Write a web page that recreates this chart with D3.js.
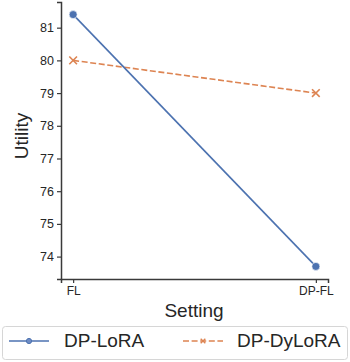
<!DOCTYPE html>
<meta charset="UTF-8">
<script src="https://d3js.org/d3.v7.min.js"></script>
<style>
body { margin: 0; background: #fff; }
text { font-family: "Liberation Sans", Arial, sans-serif; fill: #262626; }
</style>
<div id="chart"></div>
<script>
// data
var settings = ["FL", "DP-FL"]
var seriesNames = ["DP-LoRA", "DP-DyLoRA"]
var dpLora = [81.4, 73.7]
var dpDylora = [80.0, 79.0]
var yTicks = [74, 75, 76, 77, 78, 79, 80, 81]

var width = 350, height = 362
var margin = {left: 61, right: 22, top: 2, bottom: 83}

var svg = d3.select("#chart").append("svg")
    .attr("width", width)
    .attr("height", height)

// x uses index positions with matplotlib's 5% padding
var x = d3.scaleLinear().domain([-0.05, 1.05]).range([margin.left, width - margin.right])
var all = dpLora.concat(dpDylora)
var lo = d3.min(all), hi = d3.max(all), pad = (hi - lo) * 0.05
var y = d3.scaleLinear().domain([lo - pad, hi + pad]).range([height - margin.bottom, margin.top])

var axisColor = "#3a3a3a"

// y axis
var yAxis = svg.append("g")
    .attr("transform", "translate(" + margin.left + ",0)")
    .call(d3.axisLeft(y).tickValues(yTicks).tickSize(4).tickPadding(3).tickFormat(d3.format("d")))
yAxis.selectAll("text").style("font-size", "12.5px")

// x axis
var xAxis = svg.append("g")
    .attr("transform", "translate(0," + (height - margin.bottom) + ")")
    .call(d3.axisBottom(x).tickValues([0, 1]).tickSize(4).tickPadding(3).tickFormat(function(i){ return settings[i] }))
xAxis.selectAll("text").style("font-size", "12px")

svg.selectAll(".domain").attr("stroke", axisColor).attr("stroke-width", 1.5)
svg.selectAll(".tick line").attr("stroke", axisColor).attr("stroke-width", 1.2)

// axis titles
svg.append("text")
    .attr("x", 194)
    .attr("y", 317)
    .attr("text-anchor", "middle")
    .style("font-size", "19px")
    .text("Setting")
svg.append("text")
    .attr("transform", "translate(28,136) rotate(-90)")
    .attr("text-anchor", "middle")
    .style("font-size", "19px")
    .text("Utility")

var blue = "#4c72b0", orange = "#dd8452"
var line = d3.line().x(function(d, i){ return x(i) }).y(function(d){ return y(d) })

// DP-DyLoRA (dashed, x markers)
svg.append("path")
    .datum(dpDylora)
    .attr("d", line)
    .attr("fill", "none")
    .attr("stroke", orange)
    .attr("stroke-width", 1.6)
    .attr("stroke-dasharray", "6,2.6")
var xm = d3.symbol().type(d3.symbolX).size(40)
svg.selectAll(".xm").data(dpDylora).enter().append("path")
    .attr("d", xm)
    .attr("transform", function(d, i){ return "translate(" + x(i) + "," + y(d) + ")" })
    .attr("fill", "none")
    .attr("stroke", orange)
    .attr("stroke-width", 1.6)

// DP-LoRA (solid, circles)
svg.append("path")
    .datum(dpLora)
    .attr("d", line)
    .attr("fill", "none")
    .attr("stroke", blue)
    .attr("stroke-width", 1.6)
svg.selectAll(".cm").data(dpLora).enter().append("circle")
    .attr("cx", function(d, i){ return x(i) })
    .attr("cy", function(d){ return y(d) })
    .attr("r", 4)
    .attr("fill", blue)
    .attr("stroke", "#fff")
    .attr("stroke-width", 0.6)

// legend
var lg = svg.append("g")
lg.append("rect")
    .attr("x", 2.5).attr("y", 326.5)
    .attr("width", 345).attr("height", 33)
    .attr("rx", 3)
    .attr("fill", "#fff")
    .attr("stroke", "#d6d6d6")
var ly = 341
var items = [
    {name: seriesNames[0], color: blue, x0: 9, dash: null, tx: 64},
    {name: seriesNames[1], color: orange, x0: 183, dash: "6,2.6", tx: 237}
]
items.forEach(function(it, k){
    lg.append("line")
        .attr("x1", it.x0).attr("x2", it.x0 + 40)
        .attr("y1", ly).attr("y2", ly)
        .attr("stroke", it.color)
        .attr("stroke-width", 1.6)
        .attr("stroke-dasharray", it.dash)
    if (k === 0) {
        lg.append("circle")
            .attr("cx", it.x0 + 20).attr("cy", ly).attr("r", 2.6)
            .attr("fill", "#6f8cc4").attr("stroke", it.color).attr("stroke-width", 1)
    } else {
        lg.append("path")
            .attr("d", d3.symbol().type(d3.symbolX).size(16))
            .attr("transform", "translate(" + (it.x0 + 20) + "," + ly + ")")
            .attr("fill", "none").attr("stroke", it.color).attr("stroke-width", 1.4)
    }
    lg.append("text")
        .attr("x", it.tx).attr("y", ly + 6)
        .style("font-size", "19px")
        .text(it.name)
})
</script>
